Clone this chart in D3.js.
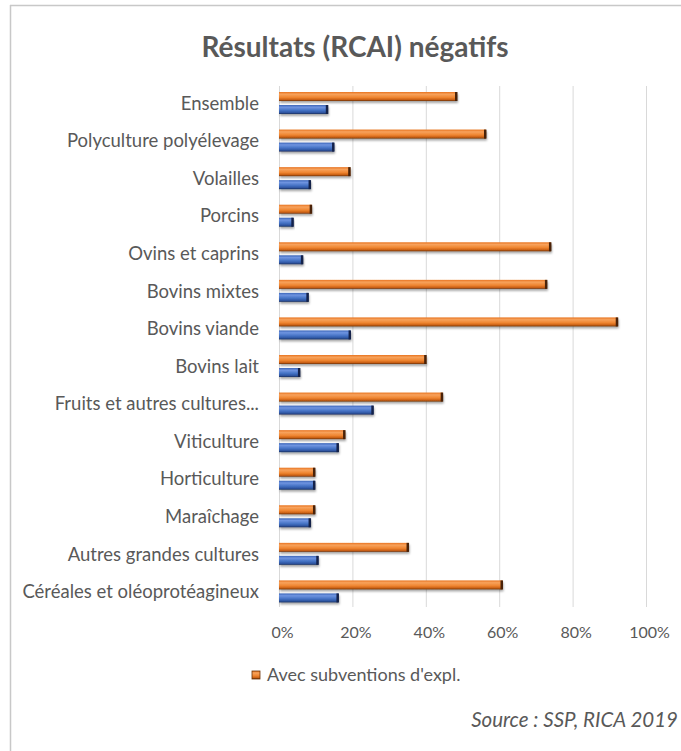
<!DOCTYPE html>
<html lang="fr">
<head>
<meta charset="utf-8">
<script src="https://cdn.jsdelivr.net/npm/d3@7"></script>
<style>
  html, body { margin: 0; padding: 0; background: #ffffff; }
  svg { display: block; }
</style>
</head>
<body>
<svg id="chart" width="681" height="751"></svg>
<script>
// Share of farms with a negative RCAI, by farm type (top to bottom)
const categories = [
  "Ensemble",
  "Polyculture polyélevage",
  "Volailles",
  "Porcins",
  "Ovins et caprins",
  "Bovins mixtes",
  "Bovins viande",
  "Bovins lait",
  "Fruits et autres cultures...",
  "Viticulture",
  "Horticulture",
  "Maraîchage",
  "Autres grandes cultures",
  "Céréales et oléoprotéagineux"
];
// With operating subsidies (orange)
const avecSubventions = [0.485, 0.564, 0.194, 0.089, 0.741, 0.730, 0.923, 0.401, 0.446, 0.180, 0.098, 0.098, 0.353, 0.609];
// Without operating subsidies (blue)
const sansSubventions = [0.133, 0.150, 0.086, 0.039, 0.065, 0.080, 0.195, 0.057, 0.257, 0.162, 0.098, 0.086, 0.107, 0.162];
const tickValues = [0, 0.2, 0.4, 0.6, 0.8, 1.0];
const titleText = "Résultats (RCAI) négatifs";
const legendText = "Avec subventions d'expl.";
const sourceText = "Source : SSP, RICA 2019";

const svg = d3.select("#chart");
const textColor = "#595959";
const font = "Lato, 'Open Sans', sans-serif";

const x = d3.scaleLinear().domain([0, 1]).range([279, 646]);
const y = d3.scaleBand().domain(categories).range([85, 611]).paddingInner(0).paddingOuter(0);
const series = ["avec", "sans"];
const ySub = d3.scaleBand().domain(series).range([7, 29]).paddingInner(0.308).paddingOuter(0);

// Frame of the chart area
svg.append("line").attr("x1", 10).attr("x2", 681).attr("y1", 5.5).attr("y2", 5.5)
  .attr("stroke", "#c8c8c8").attr("stroke-width", 1.5);
svg.append("line").attr("x1", 10.5).attr("x2", 10.5).attr("y1", 5).attr("y2", 751)
  .attr("stroke", "#c8c8c8").attr("stroke-width", 1.5);

// Gradients and shadow for the bars
const defs = svg.append("defs");
function barGradient(id, stops) {
  const g = defs.append("linearGradient").attr("id", id)
    .attr("x1", 0).attr("y1", 0).attr("x2", 0).attr("y2", 1);
  stops.forEach(([o, c]) => g.append("stop").attr("offset", o).attr("stop-color", c));
}
barGradient("gOrange", [[0, "#e8731f"], [0.25, "#f7a25c"], [0.6, "#ef8530"], [0.85, "#c95f14"], [1, "#6b3208"]]);
barGradient("gBlue", [[0, "#3a64b8"], [0.25, "#6f94e0"], [0.6, "#4472c4"], [0.85, "#2e54a0"], [1, "#1b2f5c"]]);
const f = defs.append("filter").attr("id", "shadow").attr("x", "-5%").attr("y", "-50%").attr("width", "115%").attr("height", "250%");
f.append("feDropShadow").attr("dx", 1).attr("dy", 2).attr("stdDeviation", 1.2)
  .attr("flood-color", "#000").attr("flood-opacity", 0.35);

// Title
svg.append("text")
  .attr("x", 355).attr("y", 57)
  .attr("text-anchor", "middle")
  .attr("font-family", font).attr("font-weight", 700).attr("font-size", 28)
  .attr("fill", textColor)
  .text(titleText);

// Vertical gridlines
svg.append("g").selectAll("line").data(tickValues).join("line")
  .attr("x1", d => x(d) + 0.5).attr("x2", d => x(d) + 0.5)
  .attr("y1", 86).attr("y2", 607)
  .attr("stroke", "#d9d9d9").attr("stroke-width", 1);

// Bars
const rows = categories.map((c, i) => ({ c, avec: avecSubventions[i], sans: sansSubventions[i] }));
const barStyle = { avec: { fill: "url(#gOrange)", cap: "#4a2208" }, sans: { fill: "url(#gBlue)", cap: "#14224a" } };
const groups = svg.append("g").selectAll("g").data(rows).join("g")
  .attr("transform", d => `translate(0,${y(d.c)})`);
series.forEach(s => {
  groups.append("rect")
    .attr("x", x(0))
    .attr("y", ySub(s))
    .attr("width", d => x(d[s]) - x(0))
    .attr("height", ySub.bandwidth())
    .attr("fill", barStyle[s].fill)
    .attr("filter", "url(#shadow)");
  groups.append("rect")
    .attr("x", d => x(d[s]) - 2)
    .attr("y", ySub(s))
    .attr("width", 2.5)
    .attr("height", ySub.bandwidth())
    .attr("fill", barStyle[s].cap);
});

// Category axis labels
const yAxis = svg.append("g")
  .attr("transform", `translate(${x(0) - 20},0)`)
  .call(d3.axisLeft(y).tickSize(0).tickPadding(0));
yAxis.select(".domain").remove();
yAxis.selectAll("text")
  .attr("font-family", font).attr("font-size", 18.5).attr("fill", textColor)
  .attr("dy", "0.32em");

// Value axis labels
const xAxis = svg.append("g")
  .attr("transform", "translate(3,624)")
  .call(d3.axisBottom(x).tickValues(tickValues).tickFormat(d3.format(".0%")).tickSize(0).tickPadding(0));
xAxis.select(".domain").remove();
xAxis.selectAll("text")
  .attr("font-family", font).attr("font-size", 16).attr("fill", textColor)
  .attr("dy", "0.9em");

// Legend
const legend = svg.append("g").attr("transform", "translate(252,671)");
legend.append("rect").attr("width", 8).attr("height", 8).attr("fill", "url(#gOrange)")
  .attr("stroke", "#6b3208").attr("stroke-width", 0.8);
legend.append("text").attr("x", 15).attr("y", 10)
  .attr("font-family", font).attr("font-size", 18).attr("fill", textColor)
  .text(legendText);

// Source note, kept inside the right edge
svg.append("text")
  .attr("x", 678).attr("y", 727)
  .attr("text-anchor", "end")
  .attr("font-family", font).attr("font-style", "italic").attr("font-size", 20.5)
  .attr("fill", textColor)
  .text(sourceText);
</script>
</body>
</html>
